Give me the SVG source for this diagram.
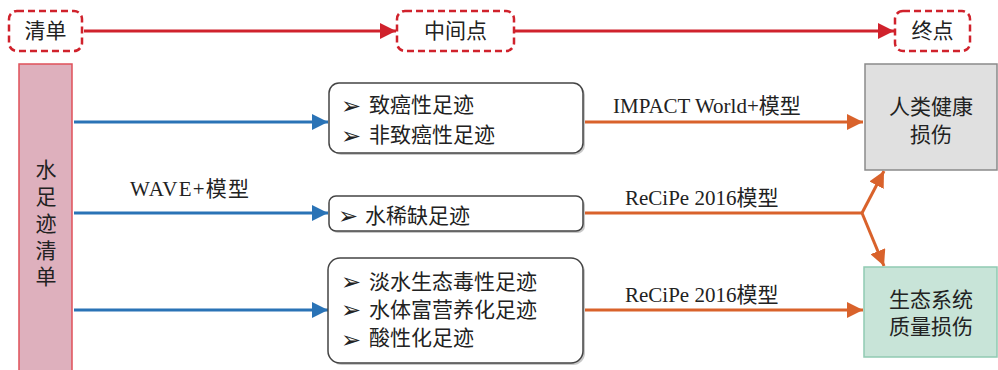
<svg xmlns="http://www.w3.org/2000/svg" width="998" height="370" viewBox="0 0 998 370">
<style>
.cjk{font-family:"Liberation Serif","Noto Sans CJK SC",serif;font-size:21px;fill:#222}
.lbl{font-family:"Liberation Serif","Noto Sans CJK SC",serif;font-size:21px;fill:#222}
.bul{font-family:"DejaVu Sans",sans-serif;font-size:24px;fill:#222}
.dash{fill:#fff;stroke:#d0222c;stroke-width:2.5;stroke-dasharray:7 4}
.box{fill:#fff;stroke:#444;stroke-width:1.5}
.shadow{fill:#c8c8c8}
.red{stroke:#d0222c;stroke-width:3;fill:none}
.blue{stroke:#2a73b6;stroke-width:3;fill:none}
.orange{stroke:#d9622b;stroke-width:3;fill:none}
</style>
<defs>
<marker id="ab" markerWidth="16" markerHeight="16" refX="16" refY="8" orient="auto" markerUnits="userSpaceOnUse"><path d="M0,0 L16,8 L0,16 z" fill="#2a73b6"/></marker>
<marker id="ao" markerWidth="16" markerHeight="16" refX="16" refY="8" orient="auto" markerUnits="userSpaceOnUse"><path d="M0,0 L16,8 L0,16 z" fill="#d9622b"/></marker>
<marker id="ar2" markerWidth="16" markerHeight="16" refX="16" refY="8" orient="auto" markerUnits="userSpaceOnUse"><path d="M0,0 L16,8 L0,16 z" fill="#d0222c"/></marker>
</defs>

<g id="connectors">
<line class="red" x1="84" y1="31" x2="396" y2="31" marker-end="url(#ar2)"/>
<line class="red" x1="515" y1="31" x2="894" y2="31" marker-end="url(#ar2)"/>
<line class="blue" x1="74" y1="122" x2="328" y2="122" marker-end="url(#ab)"/>
<line class="blue" x1="74" y1="213" x2="328" y2="213" marker-end="url(#ab)"/>
<line class="blue" x1="74" y1="310" x2="328" y2="310" marker-end="url(#ab)"/>
<line class="orange" x1="584" y1="122" x2="863" y2="122" marker-end="url(#ao)"/>
<polyline class="orange" points="584,213 862,213"/>
<line class="orange" x1="862" y1="213" x2="884" y2="171" marker-end="url(#ao)"/>
<line class="orange" x1="862" y1="213" x2="884" y2="266" marker-end="url(#ao)"/>
<line class="orange" x1="584" y1="310" x2="863" y2="310" marker-end="url(#ao)"/>
<text class="lbl" x="130" y="196" letter-spacing="1.2">WAVE+模型</text>
<text class="lbl" x="613" y="113" font-size="20.5">IMPACT World+模型</text>
<text class="lbl" x="625" y="205">ReCiPe 2016模型</text>
<text class="lbl" x="625" y="302">ReCiPe 2016模型</text>
</g>

<g id="top-inventory">
<rect class="dash" x="9" y="11" width="73" height="40" rx="8"/>
<text class="cjk" x="45.5" y="38" text-anchor="middle" font-size="20">清单</text>
</g>
<g id="top-midpoint">
<rect class="dash" x="397" y="11" width="117" height="40" rx="8"/>
<text class="cjk" x="455.5" y="38" text-anchor="middle" font-size="20">中间点</text>
</g>
<g id="top-endpoint">
<rect class="dash" x="895" y="11" width="75" height="40" rx="8"/>
<text class="cjk" x="932.5" y="38" text-anchor="middle" font-size="20">终点</text>
</g>

<g id="inventory">
<rect x="19" y="64" width="53" height="310" fill="#deb0bd" stroke="#e0505a" stroke-width="1.5"/>
<text class="cjk" x="46" y="177" text-anchor="middle">水</text>
<text class="cjk" x="46" y="204" text-anchor="middle">足</text>
<text class="cjk" x="46" y="231" text-anchor="middle">迹</text>
<text class="cjk" x="46" y="258" text-anchor="middle">清</text>
<text class="cjk" x="46" y="284" text-anchor="middle">单</text>
</g>

<g id="mid-health">
<rect class="shadow" x="331" y="85" width="254" height="70" rx="10"/>
<rect class="box" x="329" y="83" width="254" height="70" rx="10"/>
<text class="bul" x="341" y="114">➢</text>
<text class="cjk" x="369" y="112">致癌性足迹</text>
<text class="bul" x="341" y="144">➢</text>
<text class="cjk" x="369" y="142">非致癌性足迹</text>
</g>

<g id="mid-scarcity">
<rect class="shadow" x="331" y="198" width="254" height="35" rx="7"/>
<rect class="box" x="329" y="196" width="254" height="35" rx="7"/>
<text class="bul" x="338" y="224">➢</text>
<text class="cjk" x="365" y="223">水稀缺足迹</text>
</g>

<g id="mid-eco">
<rect class="shadow" x="330" y="260" width="255" height="105" rx="12"/>
<rect class="box" x="328" y="258" width="255" height="105" rx="12"/>
<text class="bul" x="341" y="290">➢</text>
<text class="cjk" x="369" y="289">淡水生态毒性足迹</text>
<text class="bul" x="341" y="318">➢</text>
<text class="cjk" x="369" y="317">水体富营养化足迹</text>
<text class="bul" x="341" y="348">➢</text>
<text class="cjk" x="369" y="345">酸性化足迹</text>
</g>

<g id="end-health">
<rect x="865" y="64" width="132" height="106" fill="#e0e0e0" stroke="#8a8a8a" stroke-width="1.5"/>
<text class="cjk" x="931" y="114" text-anchor="middle">人类健康</text>
<text class="cjk" x="931" y="142" text-anchor="middle">损伤</text>
</g>

<g id="end-eco">
<rect x="864" y="267" width="133" height="90" fill="#c8e4d8" stroke="#90cab2" stroke-width="1.5"/>
<text class="cjk" x="931" y="307" text-anchor="middle">生态系统</text>
<text class="cjk" x="931" y="334" text-anchor="middle">质量损伤</text>
</g>
</svg>
